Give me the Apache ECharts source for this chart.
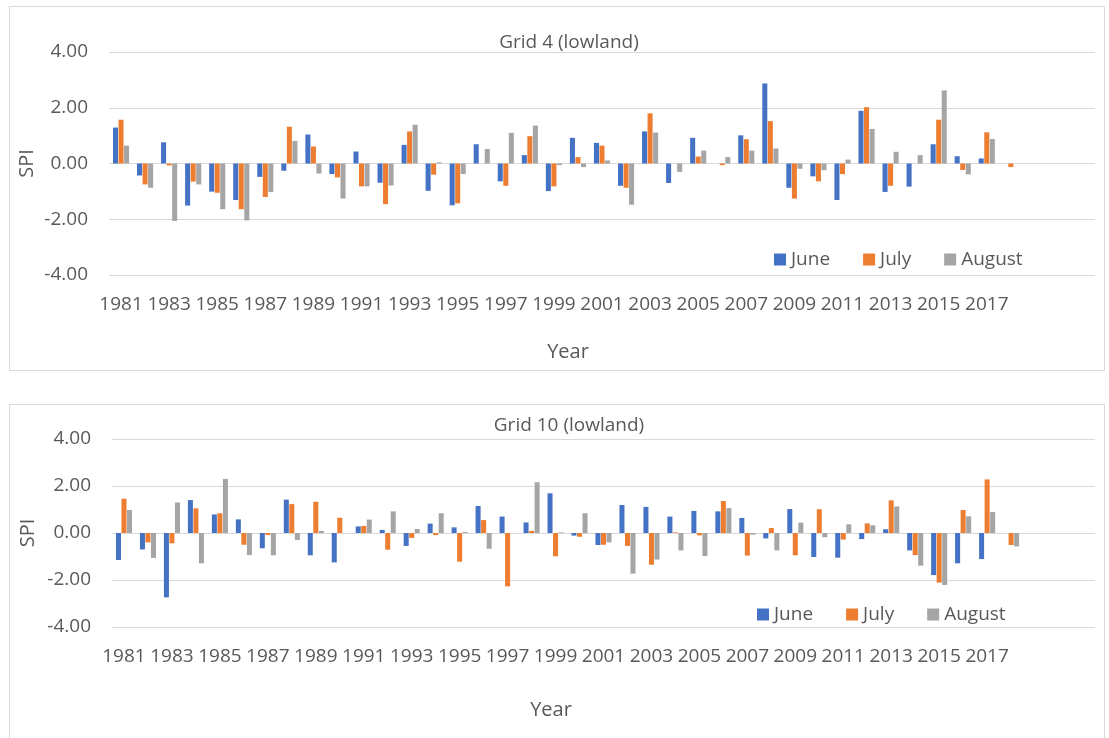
<!DOCTYPE html>
<html>
<head>
<meta charset="utf-8">
<title>SPI Grid 4 / Grid 10</title>
<script src="https://cdn.jsdelivr.net/npm/echarts@6.0.0/dist/echarts.min.js"></script>
<style>
  html, body { margin: 0; padding: 0; background: #fff; }
  #chart { width: 1109px; height: 738px; }
</style>
</head>
<body>
<div id="chart"></div>
<script>
// years (the last three rows of the sheet are blank)
var years = ['1981','1982','1983','1984','1985','1986','1987','1988','1989','1990',
  '1991','1992','1993','1994','1995','1996','1997','1998','1999','2000',
  '2001','2002','2003','2004','2005','2006','2007','2008','2009','2010',
  '2011','2012','2013','2014','2015','2016','2017','2018','','',''];

var yTicks = [-4, -2, 0, 2, 4];

// Grid 4 (lowland)
var grid4June = [1.29,-0.43,0.76,-1.51,-1.01,-1.31,-0.48,-0.26,1.04,-0.38,0.43,-0.69,0.67,-0.98,-1.50,0.69,-0.64,0.30,-0.99,0.92,0.74,-0.80,1.15,-0.70,0.92,0,1.01,2.87,-0.87,-0.46,-1.31,1.89,-1.02,-0.83,0.69,0.26,0.18,0];
var grid4July = [1.57,-0.75,-0.07,-0.65,-1.05,-1.64,-1.20,1.32,0.61,-0.50,-0.82,-1.46,1.15,-0.40,-1.43,0,-0.80,0.98,-0.82,0.23,0.64,-0.87,1.80,0,0.25,-0.06,0.87,1.52,-1.26,-0.64,-0.38,2.02,-0.80,0,1.57,-0.23,1.12,-0.13];
var grid4Aug = [0.64,-0.87,-2.06,-0.75,-1.64,-2.04,-1.02,0.81,-0.36,-1.26,-0.82,-0.79,1.39,0.04,-0.38,0.52,1.10,1.36,-0.06,-0.13,0.11,-1.48,1.11,-0.30,0.46,0.23,0.46,0.54,-0.19,-0.24,0.14,1.24,0.42,0.30,2.62,-0.39,0.88,0];

// Grid 10 (lowland)
var grid10June = [-1.15,-0.70,-2.74,1.40,0.79,0.58,-0.65,1.42,-0.95,-1.25,0.28,0.13,-0.55,0.40,0.24,1.15,0.70,0.45,1.69,-0.11,-0.51,1.19,1.11,0.70,0.94,0.92,0.64,-0.23,1.02,-1.02,-1.05,-0.26,0.16,-0.74,-1.79,-1.29,-1.11,0];
var grid10July = [1.46,-0.40,-0.44,1.05,0.84,-0.50,-0.09,1.23,1.33,0.65,0.30,-0.71,-0.21,-0.09,-1.22,0.55,-2.27,0.09,-0.99,-0.16,-0.50,-0.55,-1.35,0.03,-0.10,1.36,-0.96,0.21,-0.95,1.01,-0.28,0.41,1.39,-0.94,-2.11,0.98,2.28,-0.51];
var grid10Aug = [0.98,-1.06,1.30,-1.29,2.30,-0.94,-0.95,-0.30,0.09,0,0.57,0.92,0.17,0.84,0.04,-0.67,0,2.16,0.03,0.84,-0.40,-1.73,-1.13,-0.74,-0.98,1.06,-0.07,-0.74,0.44,-0.18,0.37,0.33,1.13,-1.39,-2.21,0.71,0.89,-0.57];

var colors = ['#4472C4', '#ED7D31', '#A5A5A5'];
var textColor = '#595959';
var font = 'Open Sans';

var myChart = echarts.init(document.getElementById('chart'));

function xAxisFor(idx) {
  return {
    type: 'category',
    gridIndex: idx,
    data: years,
    axisLine: { show: false, onZero: false },
    axisTick: { show: false },
    axisLabel: { interval: 1, margin: 20, fontSize: 19, color: textColor, fontFamily: font }
  };
}

function yAxisFor(idx, gap) {
  return {
    type: 'value',
    gridIndex: idx,
    min: yTicks[0],
    max: yTicks[yTicks.length - 1],
    interval: 2,
    name: 'SPI',
    nameLocation: 'middle',
    nameGap: gap,
    nameRotate: 90,
    nameMoveOverlap: false,
    nameTextStyle: { fontSize: 20, color: textColor, fontFamily: font },
    axisLine: { show: false },
    axisTick: { show: false },
    axisLabel: {
      margin: 21, fontSize: 19, color: textColor, fontFamily: font,
      formatter: function (v) { return v.toFixed(2); }
    },
    splitLine: { lineStyle: { color: '#D9D9D9', width: 1 } }
  };
}

function barSeries(name, data, idx, color) {
  return {
    name: name,
    type: 'bar',
    xAxisIndex: idx,
    yAxisIndex: idx,
    data: data,
    barGap: '10%',
    barCategoryGap: '33%',
    itemStyle: { color: color },
    emphasis: { disabled: true }
  };
}

function legendFor(left, top) {
  return {
    left: left, top: top,
    data: ['June', 'July', 'August'],
    itemWidth: 12, itemHeight: 12, itemGap: 33,
    icon: 'rect',
    textStyle: { fontSize: 19, color: textColor, fontFamily: font }
  };
}

var option = {
  animation: false,
  color: colors,
  title: [
    { text: 'Grid 4 (lowland)', left: 564, top: 28, textAlign: 'center',
      textStyle: { fontSize: 19, fontWeight: 'normal', color: textColor, fontFamily: font } },
    { text: 'Year', left: 563, top: 337, textAlign: 'center',
      textStyle: { fontSize: 20, fontWeight: 'normal', color: textColor, fontFamily: font } },
    { text: 'Grid 10 (lowland)', left: 564, top: 411, textAlign: 'center',
      textStyle: { fontSize: 19, fontWeight: 'normal', color: textColor, fontFamily: font } },
    { text: 'Year', left: 546, top: 695, textAlign: 'center',
      textStyle: { fontSize: 20, fontWeight: 'normal', color: textColor, fontFamily: font } }
  ],
  legend: [legendFor(769, 245), legendFor(752, 600)],
  grid: [
    { left: 109, right: 14, top: 52, height: 223 },
    { left: 112, right: 14, top: 439, height: 188 }
  ],
  xAxis: [xAxisFor(0), xAxisFor(1)],
  yAxis: [yAxisFor(0, 72), yAxisFor(1, 74)],
  series: [
    barSeries('June', grid4June, 0, colors[0]),
    barSeries('July', grid4July, 0, colors[1]),
    barSeries('August', grid4Aug, 0, colors[2]),
    barSeries('June', grid10June, 1, colors[0]),
    barSeries('July', grid10July, 1, colors[1]),
    barSeries('August', grid10Aug, 1, colors[2])
  ],
  graphic: [
    { type: 'rect', shape: { x: 9.5, y: 6.5, width: 1095, height: 364 },
      style: { fill: 'none', stroke: '#D9D9D9', lineWidth: 1 }, silent: true },
    { type: 'rect', shape: { x: 9.5, y: 404.5, width: 1095, height: 345 },
      style: { fill: 'none', stroke: '#D9D9D9', lineWidth: 1 }, silent: true }
  ]
};

myChart.setOption(option);
window.addEventListener('resize', function () { myChart.resize(); });
</script>
</body>
</html>
